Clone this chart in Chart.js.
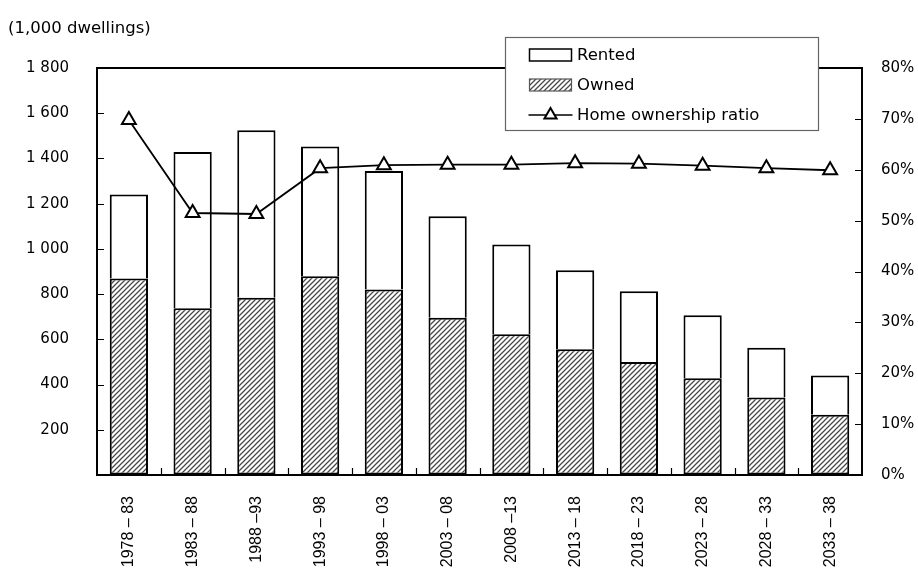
<!DOCTYPE html>
<html>
<head>
<meta charset="utf-8">
<title>Dwellings built by period</title>
<script src="https://cdn.jsdelivr.net/npm/chart.js@4.4.1/dist/chart.umd.min.js"></script>
<style>
  html, body { margin: 0; padding: 0; background: #ffffff; }
  #wrap { width: 918px; height: 571px; position: relative; }
  canvas { display: block; }
</style>
</head>
<body>
<div id="wrap"><canvas id="chart" width="918" height="571"></canvas></div>
<script>
// Five-year periods
const periods = [
  '1978 \u2013 83', '1983 \u2013 88', '1988 \u201393', '1993 \u2013 98',
  '1998 \u2013 03', '2003 \u2013 08', '2008 \u201313', '2013 \u2013 18',
  '2018 \u2013 23', '2023 \u2013 28', '2028 \u2013 33', '2033 \u2013 38'
];

// Dwellings, thousands
const ownedValues  = [869, 738, 784, 879, 820, 696, 622, 556, 500, 428, 343, 266];
const rentedValues = [371, 691, 741, 574, 525, 448, 397, 349, 313, 278, 220, 174];

// Home ownership ratio, percent
const ownershipRatio = [69.8, 51.5, 51.3, 60.3, 60.9, 61.0, 61.0, 61.3, 61.2, 60.8, 60.3, 59.9];

const seriesNames = ['Rented', 'Owned', 'Home ownership ratio'];
const unitLabel = '(1,000 dwellings)';

const TEXT_FONT = "'DejaVu Sans', 'Liberation Sans', Arial, sans-serif";
const LABEL_FONT = "'Liberation Sans', Arial, sans-serif";

const canvas = document.getElementById('chart');
const ctx = canvas.getContext('2d');

// Diagonal hatch fill for owner-occupied dwellings
function makeHatch() {
  const n = 5;
  const tile = document.createElement('canvas');
  tile.width = n; tile.height = n;
  const g = tile.getContext('2d');
  g.fillStyle = '#ffffff';
  g.fillRect(0, 0, n, n);
  g.strokeStyle = '#484848';
  g.lineWidth = 1.25;
  g.beginPath();
  g.moveTo(-1, n + 1); g.lineTo(n + 1, -1);
  g.moveTo(-1, 1); g.lineTo(1, -1);
  g.moveTo(n - 1, n + 1); g.lineTo(n + 1, n - 1);
  g.stroke();
  return ctx.createPattern(tile, 'repeat');
}
const hatch = makeHatch();

function spaced(v) {
  return String(v).replace(/\B(?=(\d{3})+(?!\d))/g, ' ');
}

// Frame, inward tick marks, unit caption and boxed legend
const decorations = {
  id: 'decorations',
  afterDraw(chart) {
    const c = chart.ctx;
    const area = chart.chartArea;
    const sx = chart.scales.x, sy = chart.scales.y, sr = chart.scales.y1;
    const tick = 7;
    c.save();
    c.strokeStyle = '#000';
    c.lineWidth = 2;
    c.beginPath();
    c.moveTo(area.left - 1, area.top);
    c.lineTo(area.right + 1, area.top);
    c.stroke();

    c.lineWidth = 1.2;
    c.beginPath();
    sy.ticks.forEach(t => {
      if (t.value <= sy.min || t.value >= sy.max) return;
      const y = Math.round(sy.getPixelForValue(t.value)) + 0.5;
      c.moveTo(area.left, y); c.lineTo(area.left + tick, y);
    });
    sr.ticks.forEach(t => {
      if (t.value <= sr.min || t.value >= sr.max) return;
      const y = Math.round(sr.getPixelForValue(t.value)) + 0.5;
      c.moveTo(area.right, y); c.lineTo(area.right - tick, y);
    });
    for (let i = 0; i < periods.length - 1; i++) {
      const x = Math.round((sx.getPixelForValue(i) + sx.getPixelForValue(i + 1)) / 2) + 0.5;
      c.moveTo(x, area.bottom); c.lineTo(x, area.bottom - tick);
    }
    c.stroke();

    // unit caption
    c.fillStyle = '#000';
    c.font = '16.5px ' + TEXT_FONT;
    c.textAlign = 'left';
    c.textBaseline = 'middle';
    c.fillText(unitLabel, 8, 29);

    // legend box
    const bx = 505, by = 37, bw = 313, bh = 93;
    c.fillStyle = '#fff';
    c.fillRect(bx, by, bw, bh);
    c.strokeStyle = '#666';
    c.lineWidth = 1.2;
    c.strokeRect(bx + 0.5, by + 0.5, bw, bh);

    const ds = chart.data.datasets;
    const sw = 529.5, swW = 42, textX = 577;
    const rows = [55, 85, 115];
    // rented swatch
    c.fillStyle = '#fff';
    c.fillRect(sw, rows[0] - 6, swW, 12);
    c.strokeStyle = '#000';
    c.lineWidth = 1.5;
    c.strokeRect(sw, rows[0] - 6, swW, 12);
    // owned swatch
    c.fillStyle = hatch;
    c.fillRect(sw, rows[1] - 6, swW, 12);
    c.strokeStyle = '#555';
    c.lineWidth = 1.2;
    c.strokeRect(sw, rows[1] - 6, swW, 12);
    // ratio swatch
    c.strokeStyle = '#000';
    c.lineWidth = 1.5;
    c.beginPath();
    c.moveTo(sw - 1, rows[2]); c.lineTo(sw + swW + 1, rows[2]);
    c.stroke();
    const cx = sw + swW / 2, r = 7;
    c.beginPath();
    c.moveTo(cx, rows[2] - r);
    c.lineTo(cx + r * Math.sin(2 * Math.PI / 3), rows[2] - r * Math.cos(2 * Math.PI / 3));
    c.lineTo(cx + r * Math.sin(4 * Math.PI / 3), rows[2] - r * Math.cos(4 * Math.PI / 3));
    c.closePath();
    c.fillStyle = '#fff';
    c.fill();
    c.lineWidth = 2;
    c.stroke();

    c.fillStyle = '#000';
    c.font = '16.5px ' + TEXT_FONT;
    c.textAlign = 'left';
    c.textBaseline = 'middle';
    const order = [ds[1].label, ds[0].label, ds[2].label];
    order.forEach((lab, i) => c.fillText(lab, textX, rows[i] + 1));
    c.restore();
  }
};

new Chart(ctx, {
  data: {
    labels: periods,
    datasets: [
      {
        type: 'bar', label: seriesNames[1], data: ownedValues,
        backgroundColor: hatch, borderColor: '#000', borderWidth: 2,
        borderSkipped: false, yAxisID: 'y', order: 1,
        categoryPercentage: 1, barPercentage: 0.6
      },
      {
        type: 'bar', label: seriesNames[0], data: rentedValues,
        backgroundColor: '#fff', borderColor: '#000', borderWidth: 2,
        borderSkipped: 'start', yAxisID: 'y', order: 2,
        categoryPercentage: 1, barPercentage: 0.6
      },
      {
        type: 'line', label: seriesNames[2], data: ownershipRatio,
        yAxisID: 'y1', order: 0,
        borderColor: '#000', borderWidth: 1.8, tension: 0,
        pointStyle: 'triangle', pointRadius: 8, pointBorderWidth: 2,
        pointBackgroundColor: '#fff', pointBorderColor: '#000'
      }
    ]
  },
  options: {
    responsive: false,
    animation: false,
    devicePixelRatio: 1,
    layout: { padding: { top: 68, left: 0, right: 0, bottom: 0 } },
    plugins: { legend: { display: false }, tooltip: { enabled: false }, title: { display: false } },
    scales: {
      x: {
        stacked: true, offset: true,
        grid: { display: true, drawOnChartArea: false, drawTicks: false },
        border: { color: '#000', width: 2 },
        ticks: {
          minRotation: 90, maxRotation: 90, autoSkip: false, padding: 21,
          color: '#000', font: { family: LABEL_FONT, size: 16 }
        },
        afterFit(s) { s.height = 96; }
      },
      y: {
        stacked: true, position: 'left', min: 0, max: 1800,
        grid: { display: true, drawOnChartArea: false, drawTicks: false },
        border: { color: '#000', width: 2 },
        ticks: {
          stepSize: 200, padding: 28, color: '#000',
          font: { family: TEXT_FONT, size: 15 },
          callback: v => (v === 0 ? '' : spaced(v))
        },
        afterFit(s) { s.width = 97; }
      },
      y1: {
        position: 'right', min: 0, max: 80,
        grid: { display: true, drawOnChartArea: false, drawTicks: false },
        border: { color: '#000', width: 2 },
        ticks: {
          stepSize: 10, padding: 19, color: '#000',
          font: { family: TEXT_FONT, size: 15 },
          callback: v => v + '%'
        },
        afterFit(s) { s.width = 56; }
      }
    }
  },
  plugins: [decorations]
});
</script>
</body>
</html>
